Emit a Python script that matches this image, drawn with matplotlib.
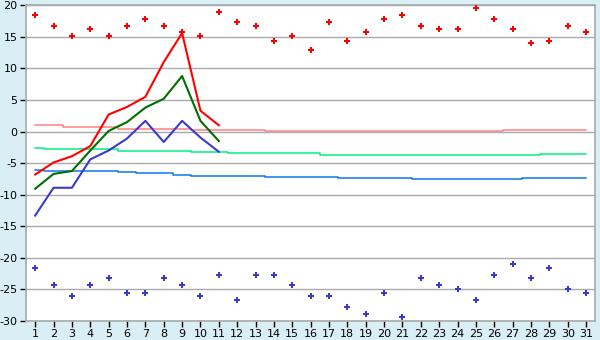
import matplotlib
matplotlib.use("Agg")
import matplotlib.pyplot as plt
import numpy as np

days = list(range(1, 32))

# daily observed max / mean / min (days 1-11)
obs_days = list(range(1, 12))
tmax = [-6.8, -4.9, -3.9, -2.3, 2.7, 3.9, 5.5, 11.0, 15.6, 3.3, 1.0]
tmean = [-9.05, -6.7, -6.25, -3.0, 0.1, 1.5, 3.8, 5.2, 8.8, 1.7, -1.5]
tmin = [-13.3, -8.9, -8.9, -4.4, -3.0, -1.1, 1.7, -1.65, 1.7, -0.95, -3.2]

# record max / min markers
rec_max = [18.4, 16.8, 15.1, 16.2, 15.1, 16.8, 17.9, 16.8, 15.7, 15.1,
           19.0, 17.3, 16.8, 14.4, 15.1, 12.9, 17.3, 14.4, 15.7, 17.9,
           18.4, 16.8, 16.2, 16.2, 19.5, 17.9, 16.2, 14.0, 14.4, 16.8, 15.7]
rec_min = [-21.6, -24.3, -26.0, -24.3, -23.2, -25.6, -25.6, -23.2, -24.3, -26.0,
           -22.7, -26.7, -22.7, -22.7, -24.3, -26.0, -26.0, -27.8, -28.9, -25.6,
           -29.4, -23.2, -24.3, -24.9, -26.7, -22.7, -21.0, -23.2, -21.6, -24.9, -25.6]

# normals
norm_max = [1.0, 1.0, 0.7, 0.7, 0.7, 0.45, 0.45, 0.45, 0.45, 0.25,
            0.25, 0.25, 0.25, 0.1, 0.1, 0.1, 0.1, 0.1, 0.1, 0.1,
            0.1, 0.1, 0.1, 0.1, 0.1, 0.1, 0.2, 0.2, 0.3, 0.3, 0.3]
norm_mean = [-2.55, -2.7, -2.7, -2.7, -2.7, -3.05, -3.05, -3.05, -3.05, -3.3,
             -3.3, -3.45, -3.45, -3.45, -3.45, -3.45, -3.65, -3.65, -3.65, -3.65,
             -3.65, -3.65, -3.65, -3.65, -3.65, -3.65, -3.65, -3.65, -3.5, -3.5, -3.5]
norm_min = [-6.1, -6.25, -6.25, -6.25, -6.25, -6.4, -6.6, -6.6, -6.8, -7.0,
            -7.0, -7.0, -7.0, -7.15, -7.15, -7.15, -7.15, -7.3, -7.3, -7.3,
            -7.3, -7.45, -7.45, -7.45, -7.45, -7.45, -7.45, -7.3, -7.3, -7.3, -7.3]

yticks = list(range(-30, 21, 5))

bg = "#DAEEF5"
fig = plt.figure(figsize=(6.0, 3.4), dpi=100, facecolor=bg)
ax = fig.add_axes([26 / 600, 1 - 321 / 340, (595.3 - 26) / 600, (321 - 5.3) / 340])
ax.set_facecolor("white")

for y in yticks:
    ax.axhline(y, color="#AAAAAA", lw=1.0, zorder=1)

ax.plot(days, norm_max, drawstyle="steps-mid", color="#FF8080", lw=1.1, zorder=2)
ax.plot(days, norm_mean, drawstyle="steps-mid", color="#00F080", lw=1.1, zorder=2)
ax.plot(days, norm_min, drawstyle="steps-mid", color="#0A78F0", lw=1.1, zorder=2)

ax.plot(obs_days, tmax, color="#FF0000", lw=1.5, zorder=3)
ax.plot(obs_days, tmean, color="#006E00", lw=1.5, zorder=3)
ax.plot(obs_days, tmin, color="#3A3ACC", lw=1.5, zorder=3)

ax.plot(days, rec_max, linestyle="none", marker="P", markersize=4.8,
        color="#FF0000", markeredgewidth=0, zorder=4)
ax.plot(days, rec_min, linestyle="none", marker="P", markersize=4.8,
        color="#3A3ACC", markeredgewidth=0, zorder=4)

ax.set_xlim(0.5, 31.5)
ax.set_ylim(-30, 20)
ax.set_xticks(days)
ax.set_yticks(yticks)
ax.set_yticklabels([str(v) for v in yticks])

for s in ax.spines.values():
    s.set_color("#AAAAAA")
    s.set_linewidth(1.2)

ax.tick_params(axis="both", direction="out", length=4, width=1, color="#000000",
               labelsize=8, labelcolor="#000000", pad=2)

fig.savefig("out.png", dpi=100, facecolor=bg)
